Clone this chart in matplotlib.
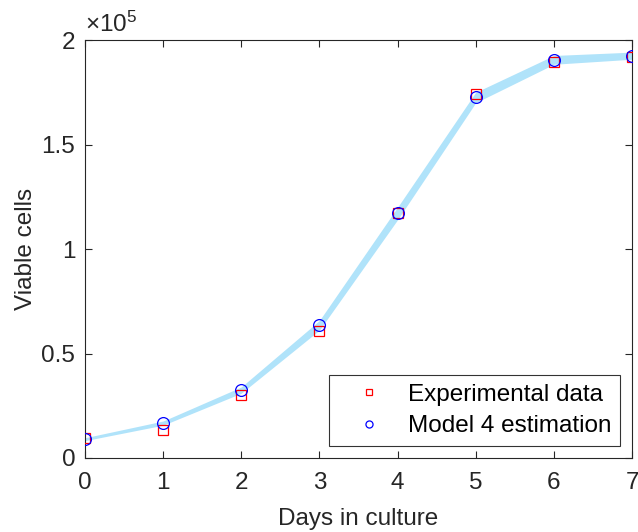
import matplotlib
matplotlib.use("Agg")
import matplotlib.pyplot as plt
import numpy as np

plt.rcParams['font.family'] = ['Liberation Sans', 'DejaVu Sans']
plt.rcParams['mathtext.fontset'] = 'custom'
plt.rcParams['mathtext.rm'] = 'Liberation Sans'
plt.rcParams['mathtext.it'] = 'Liberation Sans'

days = [0, 1, 2, 3, 4, 5, 6, 7]
experimental = [9500, 13400, 30000, 61000, 117000, 174000, 189500, 192000]
model = [9000, 16700, 32500, 63500, 117000, 172500, 190500, 192500]
band_lower = [8300, 15700, 31000, 61200, 114000, 170000, 188400, 190800]
band_upper = [9700, 17700, 34000, 65800, 120000, 175000, 192600, 194200]

yticks = [0, 50000, 100000, 150000, 200000]
ytick_labels = ['0', '0.5', '1', '1.5', '2']
xticks = [0, 1, 2, 3, 4, 5, 6, 7]

dark = '#262626'
fig = plt.figure(figsize=(6.38, 5.32), dpi=100)
ax = fig.add_axes([0.1332, 0.1391, 0.8574, 0.7857])

ax.fill_between(days, band_lower, band_upper, color='#b0e3fa', lw=0, zorder=1)
ax.plot(days, experimental, 's', mfc='none', mec='red', ms=7, mew=0.9,
        label='Experimental data', zorder=3)
ax.plot(days, model, 'o', mfc='none', mec='blue', ms=8.5, mew=0.9,
        label='Model 4 estimation', zorder=4)

ax.set_xlim(0, 7)
ax.set_ylim(0, 200000)
ax.set_xticks(xticks)
ax.set_xticklabels([str(d) for d in xticks])
ax.set_yticks(yticks)
ax.set_yticklabels(ytick_labels)
ax.tick_params(direction='in', top=True, right=True, labelsize=17.5,
               colors=dark, length=5, width=0.8)
ax.tick_params(axis='x', pad=10)
ax.tick_params(axis='y', pad=7)
for s in ax.spines.values():
    s.set_color(dark)
    s.set_linewidth(0.8)

ax.set_xlabel('Days in culture', fontsize=17.5, color=dark, labelpad=10)
ax.set_ylabel('Viable cells', fontsize=17.5, color=dark, labelpad=3)
ax.text(0.0, 1.008, r'$\times10^{5}$', transform=ax.transAxes, fontsize=17.5,
        color=dark, ha='left', va='bottom')

leg = ax.legend(loc='lower right', fontsize=17.5, frameon=True, fancybox=False,
                edgecolor='black', borderaxespad=0.5, handletextpad=0.3,
                markerscale=0.6, borderpad=0.35, labelspacing=0.4,
                handlelength=2.6)
leg.get_frame().set_linewidth(0.8)

fig.savefig('out.png', dpi=100)
